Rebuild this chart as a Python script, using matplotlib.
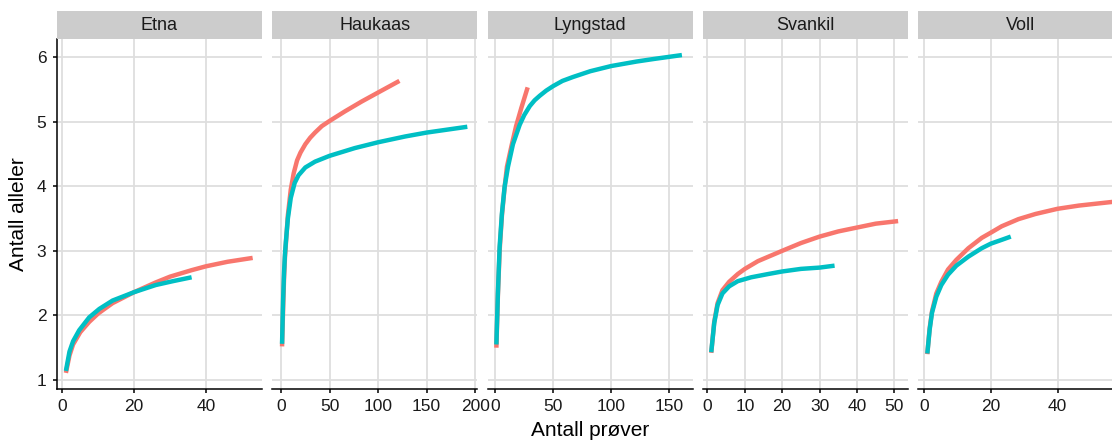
import matplotlib
matplotlib.use("Agg")
import matplotlib.pyplot as plt

plt.rcParams['font.family'] = ['Liberation Sans', 'DejaVu Sans']

# ---------------- data ----------------
sites = ["Etna", "Haukaas", "Lyngstad", "Svankil", "Voll"]

etna_x1 = [1, 2, 3, 5, 7.5, 10, 14, 20, 26, 30, 36, 40, 46, 53]
etna_y1 = [1.11, 1.38, 1.55, 1.74, 1.90, 2.03, 2.19, 2.36, 2.51, 2.60, 2.70, 2.76, 2.83, 2.89]
etna_x2 = [1, 2, 3, 4.7, 7.5, 10.3, 14, 20, 26, 30.8, 36]
etna_y2 = [1.14, 1.44, 1.60, 1.77, 1.97, 2.10, 2.23, 2.36, 2.47, 2.53, 2.59]

haukaas_x1 = [1, 2, 3, 4, 5, 7, 10, 13, 16.5, 20, 25, 30, 35, 42, 50, 66, 83, 100, 122]
haukaas_y1 = [1.52, 2.05, 2.55, 2.90, 3.12, 3.55, 3.95, 4.20, 4.40, 4.52, 4.65, 4.75, 4.83, 4.93, 5.01, 5.16, 5.31, 5.45, 5.63]
haukaas_x2 = [1, 2, 3, 4, 5, 7, 10, 14, 18, 25, 35, 50, 76, 100, 128, 150, 192]
haukaas_y2 = [1.56, 2.20, 2.65, 2.95, 3.15, 3.50, 3.82, 4.05, 4.17, 4.29, 4.38, 4.47, 4.59, 4.68, 4.77, 4.83, 4.92]

lyngstad_x1 = [1, 2.3, 3.8, 5.8, 8.1, 10.1, 14, 18, 22.5, 28]
lyngstad_y1 = [1.50, 2.30, 3.00, 3.55, 3.98, 4.30, 4.62, 4.93, 5.21, 5.53]
lyngstad_x2 = [1, 2.3, 3.8, 5.8, 8.1, 11, 15.3, 21.1, 25, 29.8, 34, 38.4, 44, 50, 58, 67, 82, 100, 122, 137, 161]
lyngstad_y2 = [1.55, 2.34, 3.06, 3.58, 3.99, 4.30, 4.65, 4.95, 5.10, 5.24, 5.33, 5.40, 5.48, 5.55, 5.63, 5.69, 5.78, 5.86, 5.93, 5.97, 6.03]

svankil_x1 = [1, 1.8, 2.7, 4, 5.8, 8.1, 10, 13.5, 20, 25, 30, 35, 40, 45, 51]
svankil_y1 = [1.42, 1.90, 2.19, 2.39, 2.52, 2.64, 2.72, 2.84, 3.00, 3.12, 3.22, 3.30, 3.36, 3.42, 3.46]
svankil_x2 = [1, 1.8, 2.7, 4, 5.8, 8.1, 11.7, 16.2, 20, 25, 30, 34]
svankil_y2 = [1.43, 1.88, 2.16, 2.34, 2.45, 2.53, 2.59, 2.64, 2.68, 2.72, 2.74, 2.77]

voll_x1 = [1, 1.7, 2.4, 3.7, 5.2, 7.2, 9.7, 13.3, 17.3, 20, 23.3, 28.3, 33.4, 40, 46.4, 57]
voll_y1 = [1.40, 1.80, 2.06, 2.34, 2.52, 2.71, 2.86, 3.04, 3.20, 3.28, 3.38, 3.49, 3.57, 3.65, 3.70, 3.76]
voll_x2 = [1, 1.7, 2.4, 3.7, 5.2, 7.2, 9.7, 13.3, 17.3, 20, 23.3, 26]
voll_y2 = [1.41, 1.78, 2.04, 2.29, 2.47, 2.63, 2.77, 2.91, 3.04, 3.11, 3.17, 3.22]

x_ticks = [[0, 20, 40], [0, 50, 100, 150, 200], [0, 50, 100, 150],
           [0, 10, 20, 30, 40, 50], [0, 20, 40]]
x_limits = [(-1.56, 55.6), (-9.26, 202.4), (-6.65, 170.4), (-1.23, 53.7), (-1.7, 59.8)]
y_ticks = [1, 2, 3, 4, 5, 6]
y_limits = (0.856, 6.274)

series = [
    ((etna_x1, etna_y1), (etna_x2, etna_y2)),
    ((haukaas_x1, haukaas_y1), (haukaas_x2, haukaas_y2)),
    ((lyngstad_x1, lyngstad_y1), (lyngstad_x2, lyngstad_y2)),
    ((svankil_x1, svankil_y1), (svankil_x2, svankil_y2)),
    ((voll_x1, voll_y1), (voll_x2, voll_y2)),
]
colors = ["#F8766D", "#00BFC4"]

# ---------------- layout ----------------
W, H = 1112, 441
fig = plt.figure(figsize=(W / 100, H / 100), dpi=100)

def fx(px):
    return px / W

def fy(py):
    return 1 - py / H

panel_left = [56.7, 272.1, 487.5, 702.9, 918.3]
panel_w = 205.3
top, bottom, strip_top = 39.3, 389.3, 11.0

for i, site in enumerate(sites):
    l = panel_left[i]
    ax = fig.add_axes([fx(l), fy(bottom), panel_w / W, (bottom - top) / H])
    ax.set_facecolor("white")
    for (xs, ys), c in zip(series[i], colors):
        ax.plot(xs, ys, color=c, linewidth=3.2, solid_capstyle="butt",
                solid_joinstyle="round")
    ax.set_xlim(*x_limits[i])
    ax.set_ylim(*y_limits)
    ax.set_xticks(x_ticks[i])
    ax.set_yticks(y_ticks)
    ax.grid(True, color="#DEDEDE", linewidth=1.3)
    ax.set_axisbelow(True)
    for s in ["top", "right"]:
        ax.spines[s].set_visible(False)
    ax.spines["bottom"].set_color("black")
    ax.spines["bottom"].set_linewidth(1.1)
    ax.tick_params(direction="out", length=3, width=1.1, color="black",
                   labelsize=12.5, labelcolor="#1A1A1A")
    ax.tick_params(axis="x", pad=4)
    ax.tick_params(axis="y", pad=4.5)
    if i == 0:
        ax.spines["left"].set_color("black")
        ax.spines["left"].set_linewidth(1.1)
    else:
        ax.spines["left"].set_visible(False)
        ax.tick_params(axis="y", left=False, labelleft=False)

    sax = fig.add_axes([fx(l), fy(top), panel_w / W, (top - strip_top) / H])
    sax.set_facecolor("#CCCCCC")
    sax.set_xticks([])
    sax.set_yticks([])
    for s in sax.spines.values():
        s.set_visible(False)
    sax.text(0.5, 0.5, site, ha="center", va="center", fontsize=13,
             color="#1A1A1A", transform=sax.transAxes)

fig.text(fx(19), fy((top + bottom) / 2), "Antall alleler", rotation=90,
         ha="center", va="center", fontsize=15, color="black")
fig.text(fx(590), fy(436.3), "Antall prøver", ha="center", va="baseline",
         fontsize=15, color="black")

fig.savefig("out.png", dpi=100)
